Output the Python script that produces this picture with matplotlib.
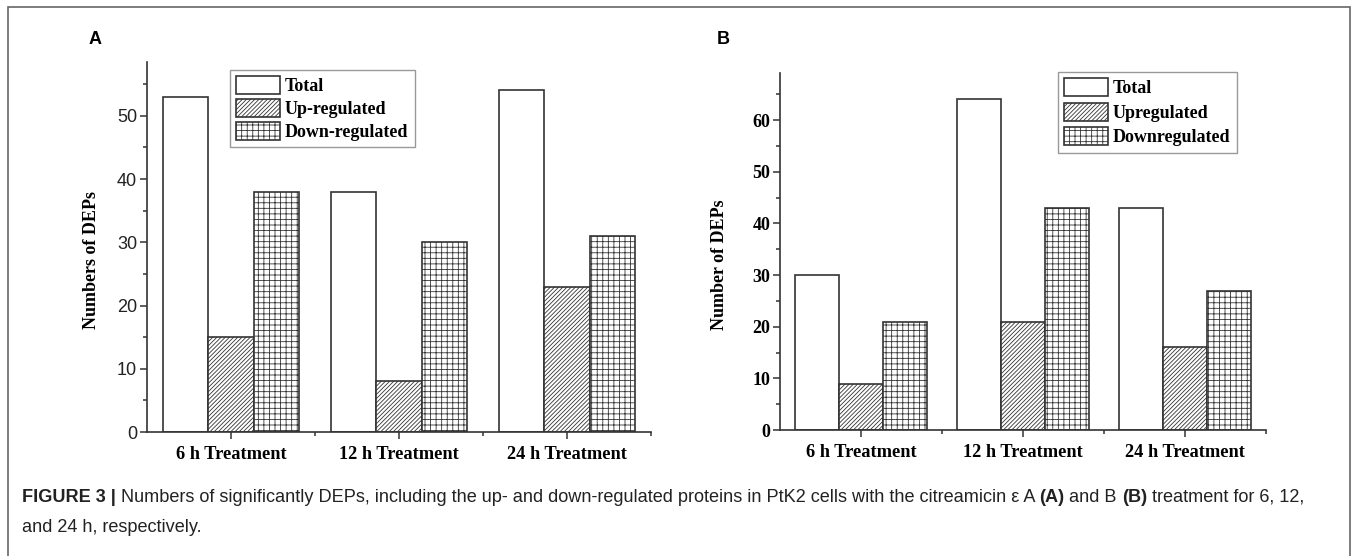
import numpy as np
import matplotlib
matplotlib.use('Agg')
import matplotlib.pyplot as plt
from matplotlib.patches import Rectangle
from matplotlib.ticker import MultipleLocator, FixedLocator

# data
groups = ['6 h Treatment', '12 h Treatment', '24 h Treatment']

totalA = [53, 38, 54]
upA = [15, 8, 23]
downA = [38, 30, 31]

totalB = [30, 64, 43]
upB = [9, 21, 16]
downB = [21, 43, 27]

labelsA = ['Total', 'Up-regulated', 'Down-regulated']
labelsB = ['Total', 'Upregulated', 'Downregulated']

plt.rcParams['hatch.linewidth'] = 0.6
plt.rcParams['hatch.color'] = '#666666'

serif = 'Liberation Serif'
axcol = '#333333'

fig = plt.figure(figsize=(13.58, 5.56), dpi=100)


def drawPanel(ax, total, up, down, labels, ymax, ylabel, serifTicks):
    x = np.arange(len(groups))
    w = 0.27
    ax.bar(x - w, total, w, color='white', edgecolor=axcol, linewidth=1.2, label=labels[0])
    ax.bar(x, up, w, color='white', edgecolor=axcol, linewidth=1.2, hatch='////////', label=labels[1])
    ax.bar(x + w, down, w, color='white', edgecolor=axcol, linewidth=1.2, hatch='+++', label=labels[2])

    ax.set_xlim(-0.5, 2.5)
    ax.set_ylim(0, ymax)
    for s in ['top', 'right']:
        ax.spines[s].set_visible(False)
    for s in ['left', 'bottom']:
        ax.spines[s].set_linewidth(1.2)
        ax.spines[s].set_color(axcol)

    ax.set_xticks(x)
    ax.set_xticklabels(groups, fontfamily=serif, fontweight='bold', fontsize=13.2)
    ax.xaxis.set_minor_locator(FixedLocator([0.5, 1.5, 2.5]))
    ax.yaxis.set_major_locator(MultipleLocator(10))
    ax.yaxis.set_minor_locator(MultipleLocator(5))
    ax.tick_params(axis='both', which='major', direction='out', length=5, width=1.1, color=axcol)
    ax.tick_params(axis='both', which='minor', direction='out', length=3, width=1.1, color=axcol)
    ax.tick_params(axis='x', which='major', pad=5)
    ax.tick_params(axis='y', which='major', pad=2)

    if serifTicks:
        for t in ax.get_yticklabels():
            t.set_fontfamily(serif)
            t.set_fontweight('bold')
            t.set_fontsize(13)
    else:
        for t in ax.get_yticklabels():
            t.set_fontfamily('Liberation Sans')
            t.set_fontsize(13)
            t.set_color('#222222')

    ax.set_ylabel(ylabel, fontfamily=serif, fontweight='bold', fontsize=13)


axA = fig.add_axes([0.1082, 0.2230, 0.3711, 0.6655])
drawPanel(axA, totalA, upA, downA, labelsA, 58.5, 'Numbers of DEPs', False)
axA.yaxis.set_label_coords(-0.093, 0.465)

axB = fig.add_axes([0.5744, 0.2266, 0.3579, 0.6421])
drawPanel(axB, totalB, upB, downB, labelsB, 69.1, 'Number of DEPs', True)
axB.yaxis.set_label_coords(-0.107, 0.462)

legProps = dict(family=serif, weight='bold', size=13)
for ax, anchor, lsp in [(axA, (230 / 1358, 1 - 70 / 556), 0.2), (axB, (1058 / 1358, 1 - 72 / 556), 0.3)]:
    leg = ax.legend(loc='upper left', bbox_to_anchor=anchor, bbox_transform=fig.transFigure,
                    borderaxespad=0, prop=legProps, fancybox=False, handlelength=2.4,
                    handleheight=1.15, handletextpad=0.3, labelspacing=lsp,
                    borderpad=0.35, framealpha=1)
    leg.get_frame().set_edgecolor('#999999')
    leg.get_frame().set_linewidth(1.0)

fig.text(95 / 1358, 1 - 40 / 556, 'A', fontsize=13, fontweight='bold', ha='center', va='center',
         family='Liberation Sans')
fig.text(723 / 1358, 1 - 40 / 556, 'B', fontsize=13, fontweight='bold', ha='center', va='center',
         family='Liberation Sans')

# outer frame
fig.patches.append(Rectangle((8 / 1358, -0.01), 1342 / 1358, 1 - 7 / 556 + 0.01, transform=fig.transFigure,
                             fill=False, edgecolor='#666666', linewidth=1.2))

# caption, pieced together so parts can be bold
capFont = ['Liberation Sans', 'DejaVu Sans']
line1 = [('FIGURE 3 |', 'bold'),
         (' Numbers of significantly DEPs, including the up- and down-regulated proteins in PtK2 cells with the citreamicin \u03b5 A ', 'normal'),
         ('(A)', 'bold'), (' and B ', 'normal'), ('(B)', 'bold'), (' treatment for 6, 12,', 'normal')]
line2 = [('and 24 h, respectively.', 'normal')]

fig.canvas.draw()
renderer = fig.canvas.get_renderer()
for segs, ypix in [(line1, 497), (line2, 527)]:
    xpix = 22
    for txt, wt in segs:
        t = fig.text(xpix / 1358, 1 - ypix / 556, txt, fontsize=13.1, fontweight=wt, family=capFont,
                     va='center', ha='left', color='#222222')
        bb = t.get_window_extent(renderer)
        xpix += bb.width

fig.savefig('out.png', dpi=100)
